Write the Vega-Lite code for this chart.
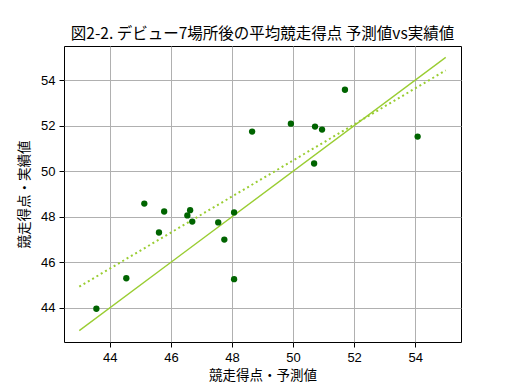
{
  "$schema": "https://vega.github.io/schema/vega-lite/v6.json",
  "width": 397,
  "height": 296,
  "autosize": {"type": "none"},
  "padding": {"left": 64, "top": 46, "right": 51, "bottom": 42},
  "background": "white",
  "title": {
    "text": "図2-2. デビュー7場所後の平均競走得点 予測値vs実績値",
    "font": "Noto Sans CJK JP",
    "fontSize": 15.5,
    "fontWeight": "normal",
    "color": "black",
    "anchor": "middle",
    "offset": 4
  },
  "config": {
    "view": {"stroke": "black", "strokeWidth": 1},
    "axis": {
      "domain": false,
      "grid": true,
      "gridColor": "#b0b0b0",
      "gridWidth": 1,
      "gridOpacity": 1,
      "tickColor": "black",
      "tickSize": 5,
      "labelFont": "Liberation Sans",
      "labelFontSize": 13,
      "labelColor": "black",
      "labelPadding": 4,
      "titleFont": "Noto Sans CJK JP",
      "titleFontSize": 13.5,
      "titleFontWeight": "normal",
      "titleColor": "black"
    }
  },
  "datasets": {
    "pts": [
      {"pred": 48.66, "act": 51.74},
      {"pred": 51.70, "act": 53.58},
      {"pred": 49.93, "act": 52.09},
      {"pred": 50.72, "act": 51.96},
      {"pred": 50.95, "act": 51.83},
      {"pred": 54.08, "act": 51.52},
      {"pred": 50.69, "act": 50.34},
      {"pred": 45.13, "act": 48.58},
      {"pred": 45.78, "act": 48.23},
      {"pred": 46.63, "act": 48.29},
      {"pred": 46.54, "act": 48.06},
      {"pred": 46.70, "act": 47.79},
      {"pred": 45.61, "act": 47.31},
      {"pred": 47.55, "act": 47.75},
      {"pred": 47.75, "act": 47.00},
      {"pred": 48.07, "act": 48.19},
      {"pred": 48.07, "act": 45.26},
      {"pred": 44.54, "act": 45.30},
      {"pred": 43.56, "act": 43.96}
    ],
    "ident": [
      {"pred": 43, "act": 43},
      {"pred": 55, "act": 55}
    ],
    "reg": [
      {"pred": 43, "act": 44.93},
      {"pred": 55, "act": 54.43}
    ]
  },
  "layer": [
    {
      "data": {"name": "ident"},
      "mark": {"type": "line", "color": "#9acd32", "strokeWidth": 1.3},
      "encoding": {
        "x": {"field": "pred", "type": "quantitative", "scale": {"domain": [42.5, 55.5], "nice": false, "zero": false}, "axis": {"values": [44, 46, 48, 50, 52, 54], "title": "競走得点・予測値", "titlePadding": 4}},
        "y": {"field": "act", "type": "quantitative", "scale": {"domain": [42.5, 55.5], "nice": false, "zero": false}, "axis": {"values": [44, 46, 48, 50, 52, 54], "title": "競走得点・実績値", "titlePadding": 9}}
      }
    },
    {
      "data": {"name": "reg"},
      "mark": {"type": "line", "color": "#9acd32", "strokeWidth": 2, "strokeDash": [2, 3]},
      "encoding": {
        "x": {"field": "pred", "type": "quantitative"},
        "y": {"field": "act", "type": "quantitative"}
      }
    },
    {
      "data": {"name": "pts"},
      "mark": {"type": "circle", "color": "#006400", "opacity": 1, "size": 40},
      "encoding": {
        "x": {"field": "pred", "type": "quantitative"},
        "y": {"field": "act", "type": "quantitative"}
      }
    }
  ]
}
